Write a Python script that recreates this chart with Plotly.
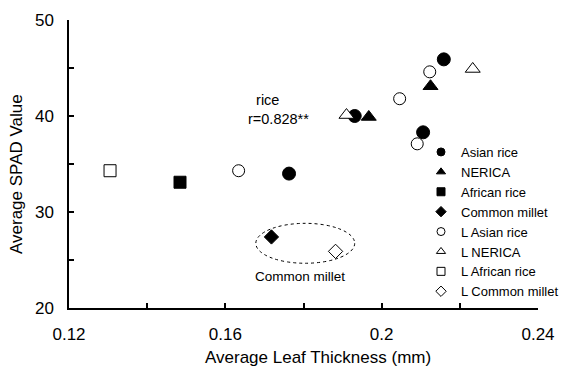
import plotly.graph_objects as go

# ---- data ----
asian_x = [0.1763, 0.1931, 0.2159, 0.2106]
asian_y = [34.0, 40.0, 45.9, 38.3]
nerica_x = [0.1967, 0.2125]
nerica_y = [39.9, 43.1]
african_x = [0.1484]
african_y = [33.1]
millet_x = [0.1718]
millet_y = [27.4]
l_asian_x = [0.1634, 0.2046, 0.2123, 0.2091]
l_asian_y = [34.3, 41.8, 44.6, 37.1]
l_nerica_x = [0.1910, 0.2233]
l_nerica_y = [40.1, 44.9]
l_african_x = [0.1305]
l_african_y = [34.3]
l_millet_x = [0.1882]
l_millet_y = [25.9]

series_names = ["Asian rice", "NERICA", "African rice", "Common millet",
                "L Asian rice", "L NERICA", "L African rice", "L Common millet"]

x_tickvals = [0.12, 0.14, 0.16, 0.18, 0.20, 0.22, 0.24]
x_ticktext = ["0.12", "", "0.16", "", "0.2", "", "0.24"]
y_tickvals = [20, 25, 30, 35, 40, 45, 50]
y_ticktext = ["20", "", "30", "", "40", "", "50"]

x_title = "Average Leaf Thickness (mm)"
y_title = "Average SPAD Value"

ellipse_x = [0.1678, 0.1931]
ellipse_y = [24.66, 28.82]

FONT = "Liberation Sans, Arial, sans-serif"

series = [
    (asian_x, asian_y, "circle", "black", 13),
    (nerica_x, nerica_y, "triangle-up", "black", 13),
    (african_x, african_y, "square", "black", 12),
    (millet_x, millet_y, "diamond", "black", 11),
    (l_asian_x, l_asian_y, "circle", "white", 12),
    (l_nerica_x, l_nerica_y, "triangle-up", "white", 13),
    (l_african_x, l_african_y, "square", "white", 12),
    (l_millet_x, l_millet_y, "diamond", "white", 11),
]

fig = go.Figure()
for (xs, ys, sym, fill, sz), name in zip(series, series_names):
    fig.add_trace(go.Scatter(
        x=xs, y=ys, mode="markers", name=name, showlegend=False,
        marker=dict(symbol=sym, size=sz, color=fill,
                    line=dict(color="black", width=1)),
    ))
# legend-only entries with small symbols
for (xs, ys, sym, fill, sz), name in zip(series, series_names):
    fig.add_trace(go.Scatter(
        x=[None], y=[None], mode="markers", name=name, showlegend=True,
        marker=dict(symbol=sym, size=8, color=fill,
                    line=dict(color="black", width=1)),
    ))

fig.add_shape(type="circle", xref="x", yref="y",
              x0=ellipse_x[0], x1=ellipse_x[1], y0=ellipse_y[0], y1=ellipse_y[1],
              line=dict(color="black", width=1, dash="dot"))

PW, PH = 469, 288
fig.add_annotation(x=(278 - 69) / PW, y=(308 - 109) / PH, xref="paper", yref="paper",
                   xanchor="center", yanchor="middle",
                   text="&nbsp;&nbsp;rice<br>r=0.828**", align="left", showarrow=False,
                   font=dict(size=14.5, color="black", family=FONT))
fig.add_annotation(x=(300 - 69) / PW, y=(308 - 276) / PH, xref="paper", yref="paper",
                   xanchor="center", yanchor="middle",
                   text="Common millet", showarrow=False, font=dict(size=13.5, color="black", family=FONT))
# axis titles (offset from plot centre as in the reference)
fig.add_annotation(x=(318 - 69) / PW, y=(308 - 357) / PH, xref="paper", yref="paper",
                   xanchor="center", yanchor="middle", text=x_title, showarrow=False,
                   font=dict(size=17, color="black", family=FONT))
fig.add_annotation(x=(16 - 69) / PW, y=(308 - 174) / PH, xref="paper", yref="paper",
                   xanchor="center", yanchor="middle", text=y_title, textangle=-90,
                   showarrow=False, font=dict(size=17, color="black", family=FONT))

fig.update_layout(
    width=567, height=366,
    margin=dict(l=69, r=29, t=20, b=58, autoexpand=False),
    plot_bgcolor="white", paper_bgcolor="white",
    font=dict(family=FONT, color="black", size=17),
    legend=dict(xref="paper", yref="paper", x=(421 - 69) / PW, y=(308 - 137) / PH,
                xanchor="left", yanchor="top", font=dict(size=13, family=FONT),
                bgcolor="rgba(0,0,0,0)", itemwidth=30, tracegroupgap=0),
    xaxis=dict(range=[0.12, 0.24], tickvals=x_tickvals, ticktext=x_ticktext,
               ticks="inside", ticklen=5, tickwidth=1.5, tickcolor="black",
               showline=True, linecolor="black", linewidth=1.5, showgrid=False,
               zeroline=False, ticklabelstandoff=10),
    yaxis=dict(range=[20, 50], tickvals=y_tickvals, ticktext=y_ticktext,
               ticks="inside", ticklen=5, tickwidth=1.5, tickcolor="black",
               showline=True, linecolor="black", linewidth=1.5, showgrid=False,
               zeroline=False, ticklabelstandoff=10),
)

fig.write_html("out.html")
